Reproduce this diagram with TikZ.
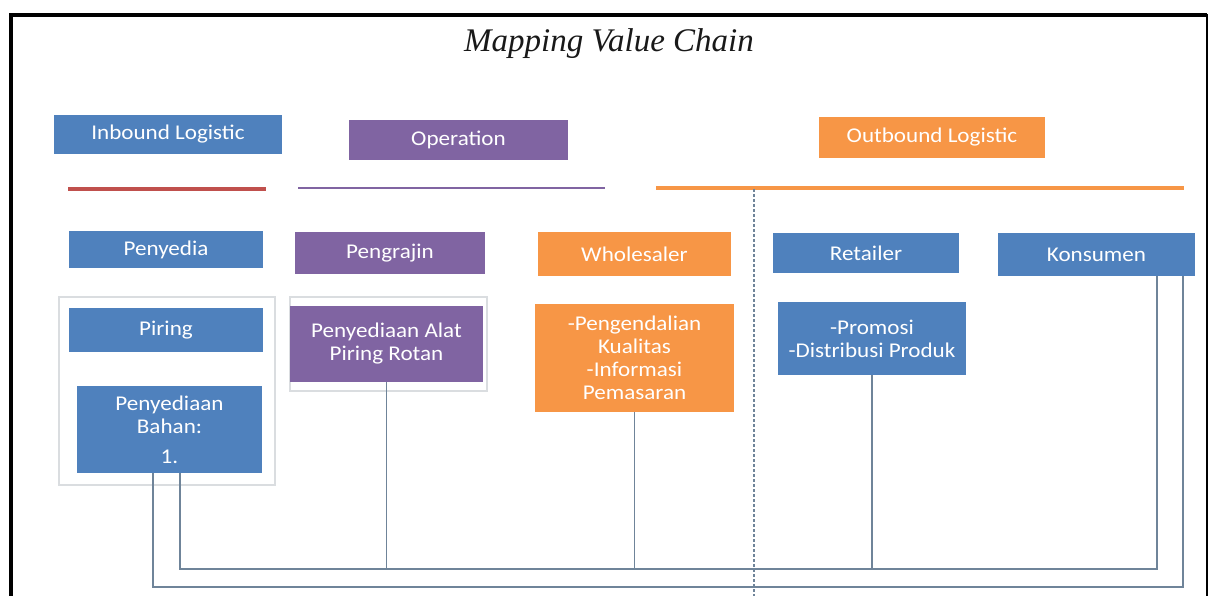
\documentclass[tikz,border=0pt]{standalone}
\usepackage{fontspec}
\setmainfont{Liberation Serif}
\newfontfamily\boxfont{Carlito}[FakeStretch=1.1]
\definecolor{obBlue}{HTML}{4F81BD}
\definecolor{obPurple}{HTML}{8064A2}
\definecolor{obOrange}{HTML}{F79646}
\definecolor{obRed}{HTML}{C0504D}
\definecolor{connGray}{HTML}{6F8499}
\definecolor{groupGray}{HTML}{DADDE0}
\tikzset{
  box/.style={rectangle, inner sep=0pt, text=white, align=center,
    font=\boxfont\fontsize{21}{23}\selectfont},
  bluebox/.style={box, fill=obBlue},
  purplebox/.style={box, fill=obPurple},
  orangebox/.style={box, fill=obOrange},
  conn/.style={draw=connGray, line width=1.5pt},
  grouprect/.style={draw=groupGray, line width=2pt, fill=white},
  divider/.style={draw=connGray, line width=1.5pt, dash pattern=on 3pt off 2pt},
}
\begin{document}
\begin{tikzpicture}[x=1pt,y=-1pt]
\useasboundingbox (0,0) rectangle (1208,596);
\fill[white] (0,0) rectangle (1208,596);
% frame
\draw[line width=4pt] (11,596) -- (11,15) -- (1207,15);
\draw[line width=2.5pt] (1207,14) -- (1207,596);
% title
\node[anchor=base, font=\itshape\fontsize{33}{40}\selectfont, text={black!90}] (title) at (609,52) {Mapping Value Chain};
% header boxes
\node[bluebox, minimum width=228pt, minimum height=39pt] (inbound) at (168,134.5) {Inbound Logistic};
\node[purplebox, minimum width=219pt, minimum height=40pt] (operation) at (458.5,140) {Operation};
\node[orangebox, minimum width=226pt, minimum height=41pt] (outbound) at (932,137.5) {Outbound Logistic};
% header lines
\draw[obRed, line width=4pt] (68,189) -- (266,189);
\draw[obPurple, line width=2.5pt] (298,188) -- (605,188);
\draw[obOrange, line width=3.5pt] (656,188) -- (1184,188);
% divider
\draw[divider] (754,189) -- (754,596);
% group rectangles
\draw[grouprect] (59,297) rectangle (275,485);
\draw[grouprect] (290,297) rectangle (487,391);
% second row
\node[bluebox, minimum width=194pt, minimum height=37pt] (penyedia) at (166,249.5) {Penyedia};
\node[purplebox, minimum width=190pt, minimum height=42pt] (pengrajin) at (390,253) {Pengrajin};
\node[orangebox, minimum width=193pt, minimum height=44pt] (wholesaler) at (634.5,254) {Wholesaler};
\node[bluebox, minimum width=186pt, minimum height=40pt] (retailer) at (866,253) {Retailer};
\node[bluebox, minimum width=197pt, minimum height=43pt] (konsumen) at (1096.5,254.5) {Konsumen};
% detail boxes
\node[bluebox, minimum width=194pt, minimum height=44pt] (piring) at (166,330) {Piring};
\node[bluebox, minimum width=185pt, minimum height=87pt] (bahan) at (169.5,429.5) {Penyediaan\\Bahan:\\[7pt]1.};
\node[purplebox, minimum width=193pt, minimum height=76pt] (alat) at (386.5,344) {Penyediaan Alat\\Piring Rotan};
\node[orangebox, minimum width=199pt, minimum height=108pt] (wdetail) at (634.5,358) {-Pengendalian\\Kualitas\\-Informasi\\Pemasaran};
\node[bluebox, minimum width=188pt, minimum height=73pt] (rdetail) at (872,338.5) {-Promosi\\-Distribusi Produk};
% bus coordinates
\coordinate (busA) at (153,587);
\coordinate (busAend) at (1183,587);
\coordinate (busB) at (180,569);
\coordinate (busBend) at (1157,569);
% connectors
\draw[conn] (bahan.south -| busA) -- (busA) -- (busAend) -- (konsumen.south -| busAend);
\draw[conn] (bahan.south -| busB) -- (busB) -- (busBend) -- (konsumen.south -| busBend);
\draw[conn] (alat.south) -- (alat.south |- busB);
\draw[conn] (wdetail.south) -- (wdetail.south |- busB);
\draw[conn] (rdetail.south) -- (rdetail.south |- busB);
\end{tikzpicture}
\end{document}
